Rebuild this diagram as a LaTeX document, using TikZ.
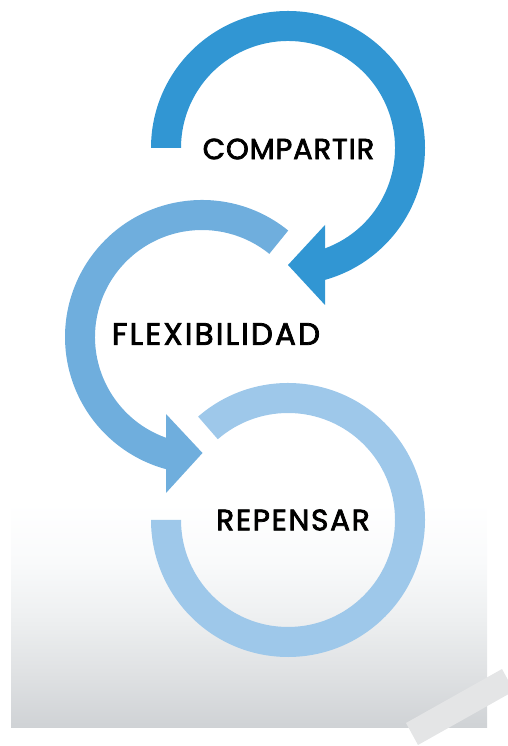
\documentclass[tikz,border=0pt]{standalone}
\usepackage{fontspec}
\setmainfont{Poppins}
\newfontfamily\labA{Poppins}[FakeBold=2.5, LetterSpace=3]
\newfontfamily\labB{Poppins}[FakeBold=2.5, LetterSpace=7]
\newfontfamily\labC{Poppins}[FakeBold=2.5, LetterSpace=6]
\usetikzlibrary{calc}
\definecolor{cone}{HTML}{3196D3}
\definecolor{ctwo}{HTML}{6FAEDD}
\definecolor{cthree}{HTML}{9EC8EA}
\definecolor{bandc}{HTML}{E4E5E6}
\definecolor{gzero}{HTML}{CFD2D5}
\definecolor{gone}{HTML}{DFE1E3}
\definecolor{gtwo}{HTML}{EEF0F1}
\definecolor{gthree}{HTML}{F9FAFB}
\pgfdeclareverticalshading{bgshade}{100bp}{
  color(0bp)=(gzero);
  color(25bp)=(gzero);
  color(37bp)=(gone);
  color(50bp)=(gtwo);
  color(62bp)=(gthree);
  color(75bp)=(white);
  color(100bp)=(white)}
\begin{document}
\begin{tikzpicture}[x=1pt,y=1pt,
  lab/.style={text=black, inner sep=0pt}]
\useasboundingbox (0,0) rectangle (508,746);
\clip (0,0) rectangle (508,746);
% background
\shade[shading=bgshade] (11,18) rectangle (487,243);
\fill[bandc] (406,23) -- (502,77) -- (514,55) -- (418,1) -- cycle;
% bottom ring (REPENSAR)
\coordinate (cb) at (288,226);
\fill[cthree] ($(cb)+(131:137)$) arc[start angle=131, end angle=-180, radius=137]
  -- ($(cb)+(180:107)$) arc[start angle=-180, end angle=131, radius=107] -- cycle;
% middle ring (FLEXIBILIDAD)
\coordinate (cm) at (202,409);
\fill[ctwo] ($(cm)+(51:137)$) arc[start angle=51, end angle=254.8, radius=137]
  -- ($(cm)+(250.3:107)$) arc[start angle=250.3, end angle=51, radius=107] -- cycle;
\fill[ctwo] (166,332) -- (202.5,293) -- (166,253) -- cycle;
% top ring (COMPARTIR)
\coordinate (ct) at (288,598);
\fill[cone] ($(ct)+(180:137)$) arc[start angle=180, end angle=-74.3, radius=137]
  -- ($(ct)+(-69.8:107)$) arc[start angle=-69.8, end angle=180, radius=107] -- cycle;
\fill[cone] (325,521) -- (288,481) -- (325,441) -- cycle;
% labels
\node[lab, font=\labA\fontsize{29}{32}\selectfont] (comp) at (288.5,597) {COMPARTIR};
\node[lab, font=\labB\fontsize{31}{34}\selectfont] (flex) at (216,412) {FLEXIBILIDAD};
\node[lab, font=\labC\fontsize{29.5}{33}\selectfont] (rep) at (293,226) {REPENSAR};
\end{tikzpicture}
\end{document}
